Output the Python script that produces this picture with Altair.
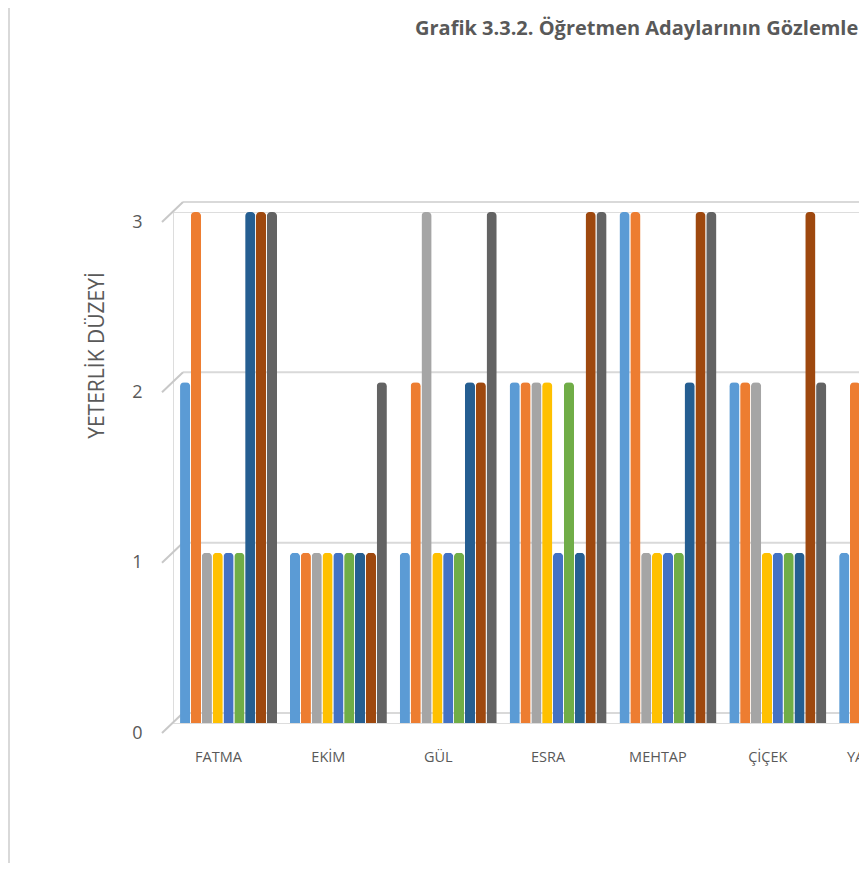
import altair as alt
import pandas as pd

# ---- data ----
students = ["FATMA", "EKİM", "GÜL", "ESRA", "MEHTAP", "ÇİÇEK", "YASEMİN"]
series = ["S1", "S2", "S3", "S4", "S5", "S6", "S7", "S8", "S9"]
colors = ["#5B9BD5", "#ED7D31", "#A5A5A5", "#FFC000", "#4472C4",
          "#70AD47", "#255E91", "#9E480E", "#636363"]

fatma = [2, 3, 1, 1, 1, 1, 3, 3, 3]
ekim = [1, 1, 1, 1, 1, 1, 1, 1, 2]
gul = [1, 2, 3, 1, 1, 1, 2, 2, 3]
esra = [2, 2, 2, 2, 1, 2, 1, 3, 3]
mehtap = [3, 3, 1, 1, 1, 1, 2, 3, 3]
cicek = [2, 2, 2, 1, 1, 1, 1, 3, 2]
yasemin = [1, 2, 3]  # only the first three bars are visible

y_ticks = [0, 1, 2, 3]
title_text = "Grafik 3.3.2. Öğretmen Adaylarının Gözlemlenen Yeterlik Düzeyleri"
y_title = "YETERLİK DÜZEYİ"

rows = []
for name, vals in zip(students, [fatma, ekim, gul, esra, mehtap, cicek, yasemin]):
    for s, v in zip(series, vals):
        rows.append({"ogrenci": name, "seri": s, "deger": v})
df = pd.DataFrame(rows)
grid_df = pd.DataFrame({"deger": y_ticks})

W, H = 686, 511          # visible plot area (chart is cut at the right edge)
RANGE = 880              # full width of the category axis
FONT = "Open Sans"
GRAY_TXT = "#595959"

y_scale = alt.Scale(domain=[0, 3], nice=False, zero=True)

bars = alt.Chart(df).mark_bar(
    cornerRadiusTopLeft=4, cornerRadiusTopRight=4
).encode(
    x=alt.X("ogrenci:N", sort=students,
            scale=alt.Scale(domain=students + ["_"], range=[0, RANGE],
                            paddingInner=0.117, paddingOuter=0.064),
            axis=alt.Axis(title=None, ticks=False, domain=False, labelFont=FONT,
                          labelFontSize=14.5, labelColor=GRAY_TXT, labelPadding=27,
                          labelOffset=-10, labelAngle=0, labelOverlap=False,
                          labelBound=False,
                          labelExpr="datum.value == '_' ? '' : datum.value")),
    xOffset=alt.XOffset("seri:N", sort=series, scale=alt.Scale(paddingInner=0.06)),
    y=alt.Y("deger:Q", scale=y_scale,
            axis=alt.Axis(values=y_ticks, format="d", title=y_title, grid=False,
                          ticks=False, domain=False, labelFont=FONT, labelFontSize=18,
                          labelColor=GRAY_TXT, labelPadding=31, labelOffset=10,
                          titleFont=FONT, titleFontSize=21, titleFontWeight="normal",
                          titleColor=GRAY_TXT, titleX=-76, titleY=143,
                          titleAngle=270, titleAlign="center", titleBaseline="middle")),
    color=alt.Color("seri:N", sort=series,
                    scale=alt.Scale(domain=series, range=colors), legend=None),
)

# back-wall gridlines (offset upward, 3-D look)
grid_back = alt.Chart(grid_df).mark_rule(
    color="#d9d9d9", strokeWidth=2, yOffset=-10
).encode(
    y=alt.Y("deger:Q", scale=y_scale),
    x=alt.value(10), x2=alt.value(RANGE),
)

# small diagonal depth lines from the labels to the back wall
grid_diag = alt.Chart(grid_df).mark_rule(
    color="#c8c8c8", strokeWidth=2, yOffset=10, y2Offset=-10
).encode(
    y=alt.Y("deger:Q", scale=y_scale),
    y2="deger:Q",
    x=alt.value(-11), x2=alt.value(10),
)

# outer frame line on the left
frame = alt.Chart(grid_df.head(1)).mark_rule(color="#d9d9d9", strokeWidth=2).encode(
    x=alt.value(-164), y=alt.value(-204), y2=alt.value(H + 160),
)

chart = alt.layer(frame, grid_back, grid_diag, bars).properties(
    width=W, height=H,
    autosize=alt.AutoSizeParams(type="none"),
    padding={"left": 165, "top": 204, "right": 0, "bottom": 140},
    title=alt.TitleParams(title_text, anchor="start", frame="group", dx=242,
                          offset=0, dy=52, baseline="bottom", font=FONT,
                          fontSize=20, fontWeight="bold", color=GRAY_TXT),
).configure_view(stroke=None).configure(background="white")

chart.save("out.html", embed_options={"renderer": "svg", "actions": False})
